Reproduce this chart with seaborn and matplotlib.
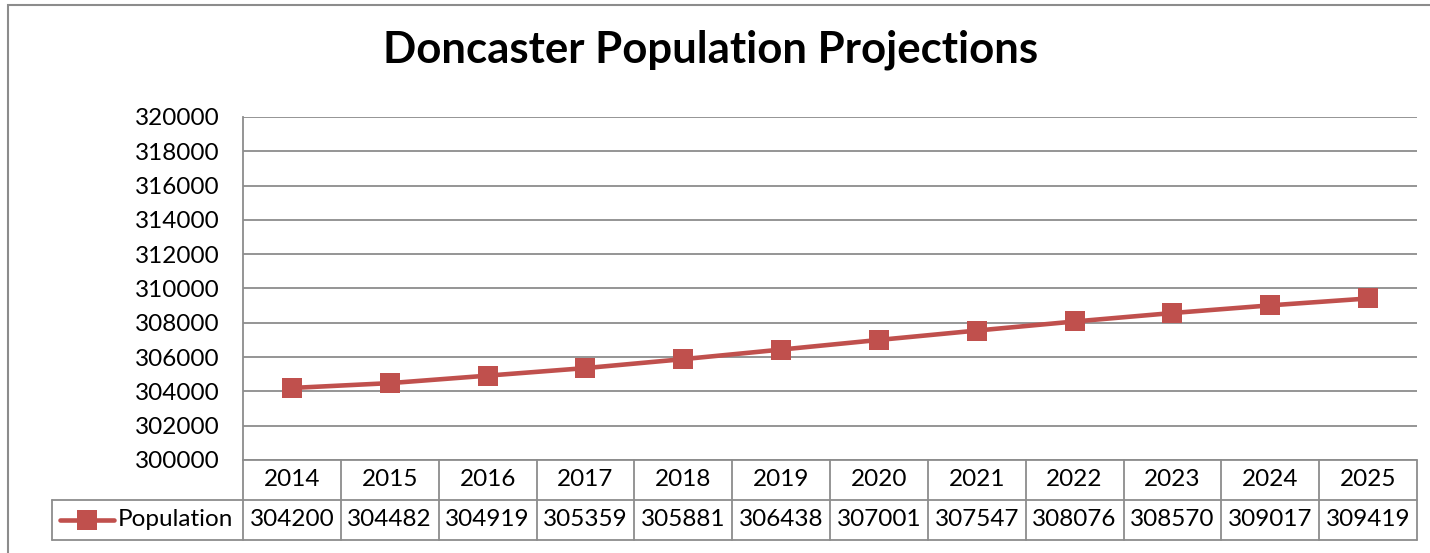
import matplotlib
matplotlib.use("Agg")
import matplotlib.pyplot as plt
import seaborn as sns
import pandas as pd
from matplotlib.lines import Line2D
from matplotlib.patches import Rectangle

years = ["2014", "2015", "2016", "2017", "2018", "2019", "2020", "2021", "2022", "2023", "2024", "2025"]
population = [304200, 304482, 304919, 305359, 305881, 306438, 307001, 307547, 308076, 308570, 309017, 309419]
series_name = "Population"
title = "Doncaster Population Projections"
y_ticks = list(range(300000, 320001, 2000))

sns.set_theme(style="white")
plt.rcParams['font.family'] = ['Lato', 'DejaVu Sans']
plt.rcParams['text.color'] = 'black'
plt.rcParams['ytick.color'] = 'black'

RED = "#C0504D"
GRID = "#8C8C8C"
FS = 17.5
W, H = 1430, 553
fig = plt.figure(figsize=(W / 100, H / 100), dpi=100)
ax = fig.add_axes([243 / W, 1 - 460 / H, (1417 - 243) / W, (460 - 117) / H])

df = pd.DataFrame({"pos": range(len(years)), "value": population})
sns.lineplot(data=df, x="pos", y="value", ax=ax, color=RED, linewidth=3.3,
             marker="s", markersize=14, markeredgewidth=0, markerfacecolor=RED)

ax.set_xlim(-0.5, len(years) - 0.5)
ax.set_ylim(y_ticks[0], y_ticks[-1])
ax.set_yticks(y_ticks)
ax.set_yticklabels([str(t) for t in y_ticks], fontsize=FS, color="black")
ax.set_xticks([])
ax.set_xlabel("")
ax.set_ylabel("")
ax.tick_params(axis="y", length=0, pad=17)
ax.grid(axis="y", color=GRID, linewidth=1.3)
ax.set_axisbelow(True)
for s in ["top", "right", "bottom"]:
    ax.spines[s].set_visible(False)
ax.spines["left"].set_color(GRID)
ax.spines["left"].set_linewidth(1.3)

# Data table below the plot
trans = ax.get_xaxis_transform()
row_h = 40 / (460 - 117)
n = len(years)
leg_left = -0.5 - (243 - 52) / ((1417 - 243) / n)
lk = dict(color=GRID, linewidth=1.3, transform=trans, clip_on=False)
ax.add_line(Line2D([-0.5, n - 0.5], [0, 0], **lk))
ax.add_line(Line2D([leg_left, n - 0.5], [-row_h, -row_h], **lk))
ax.add_line(Line2D([leg_left, n - 0.5], [-2 * row_h, -2 * row_h], **lk))
for i in range(n + 1):
    ax.add_line(Line2D([i - 0.5, i - 0.5], [0, -2 * row_h], **lk))
ax.add_line(Line2D([leg_left, leg_left], [-row_h, -2 * row_h], **lk))
for i, (yr, v) in enumerate(zip(years, population)):
    ax.text(i, -0.5 * row_h, yr, transform=trans, ha="center", va="center", fontsize=FS, color="black")
    ax.text(i, -1.5 * row_h, str(v), transform=trans, ha="center", va="center", fontsize=FS, color="black")

unit = (1417 - 243) / n
def px2data(px):
    return -0.5 + (px - 243) / unit
ax.add_line(Line2D([px2data(60), px2data(114)], [-1.5 * row_h, -1.5 * row_h], color=RED,
                   linewidth=3.3, transform=trans, clip_on=False, solid_capstyle="round"))
ax.add_line(Line2D([px2data(87)], [-1.5 * row_h], color=RED, marker="s", markersize=14,
                   markeredgewidth=0, transform=trans, clip_on=False))
ax.text(px2data(118), -1.5 * row_h, series_name, transform=trans, ha="left", va="center",
        fontsize=FS, color="black")

fig.text(711 / W, 1 - 50 / H, title, ha="center", va="center", fontsize=31.5,
         fontweight="bold", color="black")

fig.patches.append(Rectangle((8 / W, -0.1), 1.2, 1 - 5 / H + 0.1, transform=fig.transFigure,
                             fill=False, edgecolor=GRID, linewidth=1.5))

fig.savefig("out.png", dpi=100, facecolor="white")
